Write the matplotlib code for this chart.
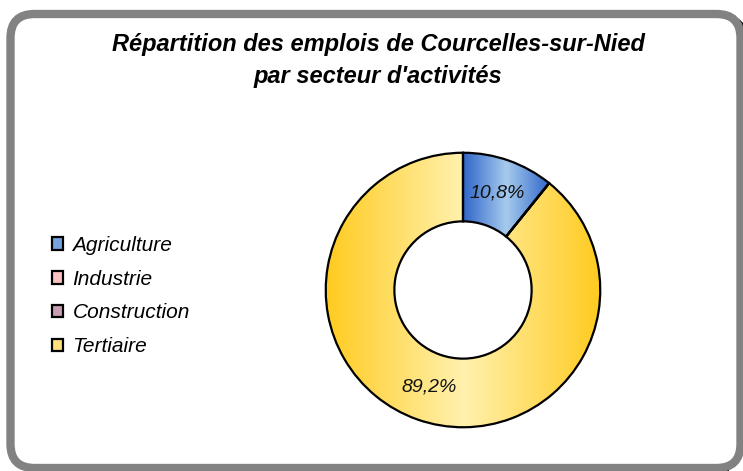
import matplotlib

matplotlib.use("Agg")
import matplotlib.pyplot as plt
import numpy as np
from matplotlib.colors import LinearSegmentedColormap
from matplotlib.patches import FancyBboxPatch, Patch

plt.rcParams["font.family"] = ["Liberation Sans", "DejaVu Sans"]

secteurs = ["Agriculture", "Industrie", "Construction", "Tertiaire"]
parts = [10.8, 0.0, 0.0, 89.2]

legend_colors = ["#77A3DF", "#FFC2C2", "#C99DB3", "#FFE07A"]
# (dark edge, light centre) for the horizontal gradient of each slice
gradients = [
    ("#2F66C9", "#A6CBEE"),
    ("#F4A0A0", "#FFE0E0"),
    ("#A0607C", "#E6C6D6"),
    ("#FFCB1F", "#FFF1AE"),
]

W, H = 743, 471
fig = plt.figure(figsize=(W / 100, H / 100), dpi=100)

# background layer in pixel coordinates for the rounded frame
bg = fig.add_axes([0, 0, 1, 1])
bg.set_xlim(0, W)
bg.set_ylim(H, 0)
bg.axis("off")
shadow = FancyBboxPatch((15, 18.5), 730, 454, boxstyle="round,pad=0,rounding_size=24",
                        facecolor="none", edgecolor="#111111", linewidth=6)
bg.add_patch(shadow)
frame = FancyBboxPatch((10.5, 14), 730, 454, boxstyle="round,pad=0,rounding_size=24",
                       facecolor="white", edgecolor="#828282", linewidth=6)
bg.add_patch(frame)

fig.text(378 / W, 1 - 45 / H, "Répartition des emplois de Courcelles-sur-Nied",
         ha="center", va="center", fontsize=17, fontweight="bold", style="italic")
fig.text(378 / W, 1 - 76 / H, "par secteur d'activités",
         ha="center", va="center", fontsize=17, fontweight="bold", style="italic")

# donut
cx, cy, r = 463, 290, 140
ax = fig.add_axes([(cx - r) / W, (H - cy - r) / H, 2 * r / W, 2 * r / H])


def pct_label(p):
    return f"{p:.1f}%".replace(".", ",") if p > 0 else ""


wedges, texts, autotexts = ax.pie(
    parts, startangle=90, counterclock=False, radius=1.0,
    autopct=pct_label, pctdistance=0.75,
    wedgeprops=dict(width=0.5, edgecolor="black", linewidth=1.6, facecolor="none"),
    textprops=dict(fontsize=14, style="italic", color="#111111"),
)
ax.set_xlim(-1.02, 1.02)
ax.set_ylim(-1.02, 1.02)
ax.set_aspect("equal")
ax.axis("off")

for w, (dark, light), p in zip(wedges, gradients, parts):
    if p <= 0:
        continue
    verts = w.get_path().vertices
    x0, x1 = verts[:, 0].min(), verts[:, 0].max()
    y0, y1 = verts[:, 1].min(), verts[:, 1].max()
    cmap = LinearSegmentedColormap.from_list("g", [dark, light, dark])
    grad = np.linspace(0, 1, 256)[None, :]
    im = ax.imshow(grad, cmap=cmap, extent=(x0, x1, y0, y1), aspect="auto",
                   interpolation="bicubic", zorder=w.get_zorder() - 0.1)
    im.set_clip_path(w)
ax.set_xlim(-1.02, 1.02)
ax.set_ylim(-1.02, 1.02)

handles = [Patch(facecolor=c, edgecolor="black", linewidth=1.6) for c in legend_colors]
fig.legend(handles, secteurs, loc="center left", bbox_to_anchor=(37 / W, 1 - 296 / H),
           frameon=False, prop=dict(style="italic", size=15),
           handlelength=0.55, handleheight=0.55, handletextpad=0.45,
           labelspacing=0.71, borderpad=0.2)

fig.savefig("out.png", dpi=100)
